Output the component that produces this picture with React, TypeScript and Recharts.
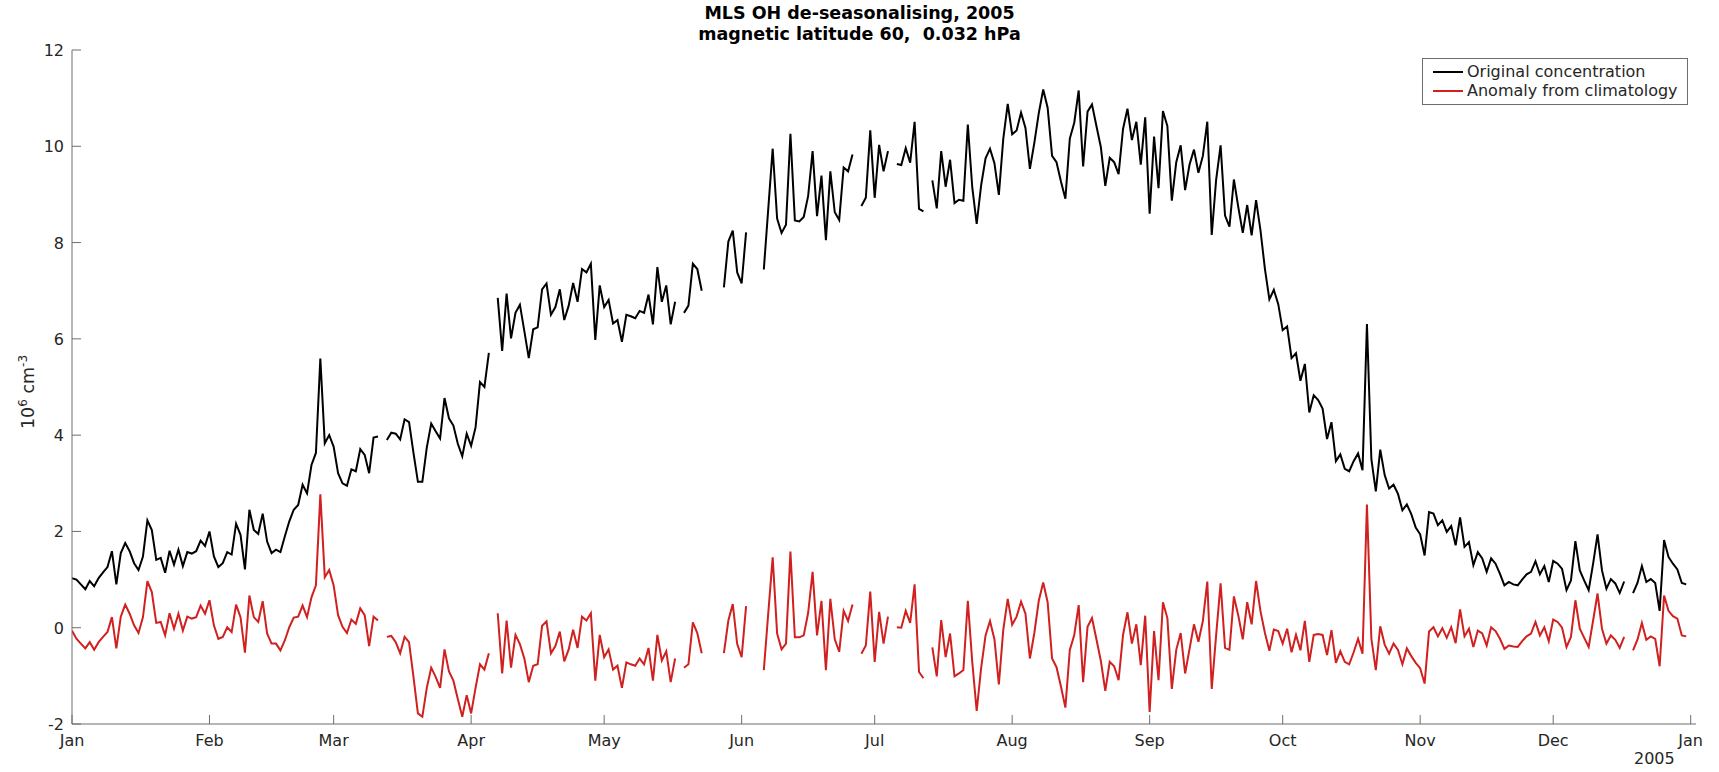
import { LineChart, Line, XAxis, YAxis, Legend } from 'recharts';

// day-of-year ticks (0 = 1 Jan 2005)
const monthDays = [0, 31, 59, 90, 120, 151, 181, 212, 243, 273, 304, 334, 365];
const monthNames = ['Jan', 'Feb', 'Mar', 'Apr', 'May', 'Jun', 'Jul', 'Aug', 'Sep', 'Oct', 'Nov', 'Dec', 'Jan'];
const yTicks = [-2, 0, 2, 4, 6, 8, 10, 12];
const seriesNames = ['Original concentration', 'Anomaly from climatology'];

// Original concentration, 10^6 cm^-3, one value per day (null = no data)
const original: (number | null)[] = [
  // Jan
  1.03, 1.0, 0.9, 0.8, 0.97, 0.86, 1.03, 1.15, 1.26, 1.59, 0.9, 1.55, 1.76, 1.59, 1.34, 1.2, 1.48, 2.23, 2.03, 1.41,
  1.45, 1.14, 1.6, 1.31, 1.62, 1.28, 1.57, 1.54, 1.59, 1.81, 1.7,
  // Feb
  2.0, 1.48, 1.26, 1.34, 1.57, 1.52, 2.16, 1.93, 1.21, 2.45, 2.03, 1.95, 2.37, 1.79, 1.55, 1.62, 1.57, 1.9, 2.21, 2.45,
  2.55, 2.97, 2.79, 3.38, 3.63, 5.59, 3.83, 4.0,
  // Mar
  3.76, 3.21, 3.0, 2.95, 3.29, 3.25, 3.71, 3.59, 3.21, 3.95, 3.97, null, 3.9, 4.05, 4.03, 3.91, 4.33, 4.27, 3.63, 3.03,
  3.03, 3.74, 4.24, 4.08, 3.93, 4.77, 4.35, 4.2, 3.82, 3.56, 4.03,
  // Apr
  3.78, 4.16, 5.1, 5.0, 5.71, null, 6.85, 5.75, 6.94, 6.01, 6.54, 6.71, 6.16, 5.6, 6.2, 6.24, 7.03, 7.15, 6.5, 6.66,
  7.03, 6.39, 6.69, 7.16, 6.77, 7.45, 7.38, 7.56, 5.98, 7.11,
  // May
  6.66, 6.81, 6.32, 6.39, 5.94, 6.5, 6.47, 6.43, 6.58, 6.54, 6.92, 6.3, 7.49, 6.77, 7.11, 6.3, 6.77, null, 6.54, 6.69,
  7.56, 7.45, 7.0, null, null, null, null, 7.07, 8.02, 8.25, 7.38,
  // Jun
  7.15, 8.21, null, null, null, 7.44, 8.7, 9.95, 8.5, 8.2, 8.37, 10.26, 8.46, 8.44, 8.53, 8.97, 9.9, 8.55, 9.39, 8.05,
  9.48, 8.63, 8.47, 9.56, 9.48, 9.83, null, 8.76, 8.93, 10.33,
  // Jul
  8.93, 10.03, 9.48, 9.9, null, 9.63, 9.61, 9.96, 9.66, 10.51, 8.7, 8.65, null, 9.29, 8.71, 9.9, 9.16, 9.72, 8.82, 8.89,
  8.87, 10.45, 9.15, 8.39, 9.19, 9.75, 9.95, 9.65, 8.99, 10.16, 10.88,
  // Aug
  10.25, 10.33, 10.7, 10.38, 9.53, 10.07, 10.69, 11.18, 10.8, 9.8, 9.67, 9.27, 8.91, 10.16, 10.49, 11.16, 9.58, 10.72,
  10.87, 10.42, 9.98, 9.18, 9.76, 9.67, 9.42, 10.36, 10.78, 10.13, 10.51, 9.62, 10.6,
  // Sep
  8.6, 10.2, 9.13, 10.73, 10.42, 8.87, 9.67, 10.02, 9.09, 9.62, 9.93, 9.45, 9.8, 10.51, 8.16, 9.31, 10.02, 8.56, 8.33,
  9.31, 8.73, 8.2, 8.78, 8.15, 8.88, 8.25, 7.45, 6.82, 7.02, 6.72,
  // Oct
  6.18, 6.26, 5.6, 5.7, 5.13, 5.48, 4.47, 4.83, 4.73, 4.55, 3.92, 4.27, 3.46, 3.6, 3.3, 3.25, 3.46, 3.62, 3.27, 6.31,
  3.5, 2.83, 3.7, 3.17, 2.89, 2.97, 2.78, 2.44, 2.56, 2.36, 2.08,
  // Nov
  1.94, 1.5, 2.4, 2.37, 2.13, 2.23, 1.99, 2.11, 1.71, 2.29, 1.68, 1.78, 1.3, 1.57, 1.44, 1.16, 1.44, 1.33, 1.12, 0.88,
  0.95, 0.9, 0.88, 1.0, 1.11, 1.16, 1.38, 1.11, 1.28, 0.95,
  // Dec
  1.39, 1.33, 1.22, 0.78, 0.98, 1.8, 1.19, 0.98, 0.78, 1.33, 1.94, 1.19, 0.81, 1.01, 0.92, 0.72, 0.96, null, 0.72, 0.93,
  1.28, 0.95, 1.01, 0.93, 0.35, 1.82, 1.47, 1.33, 1.21, 0.93, 0.9,
];

// Anomaly from climatology, 10^6 cm^-3
const anomaly: (number | null)[] = [
  // Jan
  -0.06, -0.23, -0.33, -0.43, -0.3, -0.46, -0.3, -0.19, -0.09, 0.22, -0.43, 0.23, 0.48, 0.29, 0.05, -0.11, 0.22, 0.97,
  0.74, 0.1, 0.12, -0.16, 0.3, -0.02, 0.29, -0.06, 0.23, 0.19, 0.22, 0.46, 0.29,
  // Feb
  0.57, 0.05, -0.23, -0.19, 0.01, -0.09, 0.48, 0.22, -0.52, 0.67, 0.22, 0.12, 0.55, -0.12, -0.33, -0.33, -0.47, -0.26,
  0.01, 0.21, 0.23, 0.46, 0.22, 0.63, 0.88, 2.77, 1.05, 1.2,
  // Mar
  0.88, 0.26, 0.02, -0.11, 0.17, 0.08, 0.4, 0.26, -0.38, 0.23, 0.15, null, -0.19, -0.17, -0.3, -0.53, -0.19, -0.3, -1.02,
  -1.78, -1.85, -1.25, -0.83, -1.02, -1.25, -0.45, -0.91, -1.1, -1.48, -1.85, -1.4,
  // Apr
  -1.78, -1.25, -0.76, -0.87, -0.53, null, 0.3, -0.95, 0.15, -0.83, -0.15, -0.34, -0.64, -1.13, -0.79, -0.76, 0.04, 0.13,
  -0.53, -0.38, -0.08, -0.7, -0.45, -0.04, -0.42, 0.23, 0.15, 0.3, -1.1, -0.15,
  // May
  -0.61, -0.45, -0.87, -0.79, -1.25, -0.72, -0.76, -0.79, -0.64, -0.76, -0.42, -1.1, -0.15, -0.68, -0.49, -1.13, -0.64,
  null, -0.83, -0.76, 0.11, -0.11, -0.53, null, null, null, null, -0.53, 0.15, 0.49, -0.34,
  // Jun
  -0.61, 0.45, null, null, null, -0.88, 0.3, 1.46, -0.12, -0.45, -0.33, 1.58, -0.2, -0.2, -0.16, 0.31, 1.16, -0.16, 0.56,
  -0.88, 0.6, -0.24, -0.5, 0.35, 0.14, 0.48, null, -0.54, -0.37, 0.75,
  // Jul
  -0.71, 0.33, -0.33, 0.23, null, 0.01, 0.0, 0.35, 0.1, 0.9, -0.92, -1.05, null, -0.41, -1.01, 0.16, -0.61, -0.12, -1.01,
  -0.95, -0.88, 0.56, -0.71, -1.73, -0.84, -0.16, 0.14, -0.24, -1.18, -0.04, 0.6,
  // Aug
  0.06, 0.23, 0.54, 0.29, -0.64, -0.11, 0.56, 0.94, 0.53, -0.64, -0.82, -1.22, -1.66, -0.46, -0.15, 0.47, -1.13, 0.02,
  0.2, -0.24, -0.69, -1.31, -0.71, -0.8, -1.09, -0.15, 0.32, -0.33, 0.07, -0.78, 0.25,
  // Sep
  -1.75, -0.07, -1.09, 0.53, 0.2, -1.27, -0.46, -0.11, -0.95, -0.44, 0.07, -0.29, 0.14, 0.96, -1.27, -0.15, 0.92, -0.42,
  -0.46, 0.65, 0.25, -0.24, 0.53, 0.07, 0.97, 0.34, -0.11, -0.48, -0.04, -0.07,
  // Oct
  -0.33, -0.02, -0.51, -0.15, -0.47, 0.14, -0.71, -0.15, -0.13, -0.15, -0.57, -0.05, -0.73, -0.49, -0.71, -0.76, -0.51,
  -0.23, -0.54, 2.56, -0.23, -0.88, 0.03, -0.35, -0.54, -0.33, -0.46, -0.76, -0.43, -0.59, -0.73,
  // Nov
  -0.84, -1.16, -0.08, 0.01, -0.18, -0.01, -0.21, 0.01, -0.32, 0.38, -0.18, -0.02, -0.4, -0.06, -0.12, -0.37, 0.01, -0.07,
  -0.23, -0.44, -0.37, -0.39, -0.4, -0.28, -0.18, -0.12, 0.12, -0.16, 0.01, -0.28,
  // Dec
  0.17, 0.12, 0.0, -0.4, -0.19, 0.57, -0.02, -0.21, -0.4, 0.15, 0.71, -0.02, -0.33, -0.16, -0.25, -0.42, -0.19, null,
  -0.47, -0.25, 0.1, -0.25, -0.18, -0.23, -0.8, 0.67, 0.35, 0.24, 0.19, -0.16, -0.18,
];

const data = original.map((v, i) => ({ day: i, original: v, anomaly: anomaly[i] }));

const AXIS = '#6e6e6e';
const TEXT = '#262626';
const FONT = '"DejaVu Sans", sans-serif';
const TICK_LEN = 9;

const monthLabel = (d: number) => monthNames[monthDays.indexOf(d)] ?? '';

const BottomTick = (props: any) => {
  const { x, y, payload } = props;
  return (
    <g>
      <line x1={x} y1={y} x2={x} y2={y - TICK_LEN} stroke={AXIS} />
      <text x={x} y={y + 22} textAnchor="middle" fontSize={16} fill={TEXT} fontFamily={FONT}>
        {monthLabel(payload.value)}
      </text>
    </g>
  );
};

const TopTick = (props: any) => {
  const { x, y } = props;
  return <line x1={x} y1={y} x2={x} y2={y + TICK_LEN} stroke={AXIS} />;
};

const LeftTick = (props: any) => {
  const { x, y, payload } = props;
  return (
    <g>
      <line x1={x} y1={y} x2={x + TICK_LEN} y2={y} stroke={AXIS} />
      <text x={x - 8} y={y + 6} textAnchor="end" fontSize={16} fill={TEXT} fontFamily={FONT}>
        {String(payload.value)}
      </text>
    </g>
  );
};

const RightTick = (props: any) => {
  const { x, y } = props;
  return <line x1={x} y1={y} x2={x - TICK_LEN} y2={y} stroke={AXIS} />;
};

const renderLegend = (props: any) => {
  const items = [...(props.payload ?? [])].sort(
    (a: any, b: any) => seriesNames.indexOf(a.value) - seriesNames.indexOf(b.value)
  );
  return (
    <div
      style={{
        border: `1px solid ${AXIS}`,
        background: '#fff',
        padding: '3px 6px 4px 8px',
        fontFamily: FONT,
        fontSize: 16,
        color: TEXT,
        lineHeight: '19px',
      }}
    >
      {items.map((it: any) => (
        <div key={it.value} style={{ display: 'flex', alignItems: 'center', whiteSpace: 'nowrap' }}>
          <svg width={32} height={10} style={{ marginRight: 4 }}>
            <line x1={2} y1={5} x2={32} y2={5} stroke={it.color} strokeWidth={2} />
          </svg>
          <span>{it.value}</span>
        </div>
      ))}
    </div>
  );
};

export default function App() {
  return (
    <div style={{ position: 'absolute', left: 0, top: 0, width: 1719, height: 772, background: '#fff', fontFamily: FONT }}>
      <div
        style={{
          position: 'absolute',
          left: 0,
          width: 1719,
          top: 3,
          textAlign: 'center',
          fontWeight: 'bold',
          fontSize: 17.5,
          lineHeight: '21px',
          color: '#000',
        }}
      >
        <div>MLS OH de-seasonalising, 2005</div>
        <div style={{ whiteSpace: 'pre' }}>magnetic latitude 60,  0.032 hPa</div>
      </div>

      <div
        style={{
          position: 'absolute',
          left: 27,
          top: 392,
          transform: 'translate(-50%, -50%) rotate(-90deg)',
          fontSize: 17.5,
          color: TEXT,
          whiteSpace: 'nowrap',
        }}
      >
        10<sup style={{ fontSize: 12 }}>6</sup> cm<sup style={{ fontSize: 12 }}>-3</sup>
      </div>

      <div style={{ position: 'absolute', left: 1634, top: 749, fontSize: 16, color: TEXT }}>2005</div>

      <LineChart width={1719} height={772} data={data} margin={{ top: 50, right: 23, bottom: 0, left: 0 }}>
        <XAxis
          dataKey="day"
          type="number"
          domain={[0, 366.2]}
          ticks={monthDays}
          interval={0}
          height={48}
          tickSize={0}
          tickMargin={0}
          tick={<BottomTick />}
          axisLine={{ stroke: AXIS }}
          tickLine={false}
          allowDataOverflow
        />
        <XAxis
          xAxisId="top"
          orientation="top"
          dataKey="day"
          type="number"
          domain={[0, 366.2]}
          ticks={monthDays}
          interval={0}
          height={0}
          tickSize={0}
          tickMargin={0}
          tick={<TopTick />}
          axisLine={{ stroke: AXIS }}
          tickLine={false}
          allowDataOverflow
        />
        <YAxis
          type="number"
          domain={[-2, 12]}
          ticks={yTicks}
          interval={0}
          width={72}
          tickSize={0}
          tickMargin={0}
          tick={<LeftTick />}
          axisLine={{ stroke: AXIS }}
          tickLine={false}
          allowDataOverflow
        />
        <YAxis
          yAxisId="right"
          orientation="right"
          type="number"
          domain={[-2, 12]}
          ticks={yTicks}
          interval={0}
          width={0}
          tickSize={0}
          tickMargin={0}
          tick={<RightTick />}
          axisLine={{ stroke: AXIS }}
          tickLine={false}
          allowDataOverflow
        />
        <Legend
          content={renderLegend}
          layout="vertical"
          align="center"
          verticalAlign="middle"
          wrapperStyle={{ top: 58, left: 1422, width: 266 }}
        />
        <Line
          name="Original concentration"
          type="linear"
          dataKey="original"
          stroke="#000000"
          strokeWidth={2}
          dot={false}
          isAnimationActive={false}
        />
        <Line
          name="Anomaly from climatology"
          type="linear"
          dataKey="anomaly"
          stroke="#d0201f"
          strokeWidth={2}
          dot={false}
          isAnimationActive={false}
        />
      </LineChart>
    </div>
  );
}
